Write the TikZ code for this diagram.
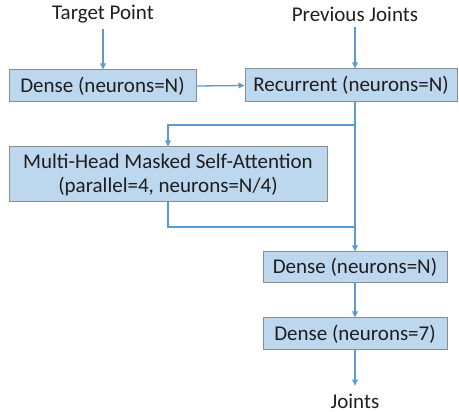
\documentclass[tikz,border=0pt]{standalone}
\usepackage{fontspec}
\setmainfont{Carlito}
\usetikzlibrary{arrows.meta}
\definecolor{boxfill}{RGB}{189,215,238}
\definecolor{boxline}{RGB}{140,140,140}
\definecolor{arrowblue}{RGB}{91,155,213}
\definecolor{txt}{RGB}{30,30,30}
\begin{document}
\begin{tikzpicture}[x=1pt,y=-1pt,
  layer/.style={draw=boxline,fill=boxfill,line width=1pt,inner sep=0pt,align=center,
     font=\fontsize{21}{24}\selectfont,text=txt},
  lbl/.style={inner sep=0pt,outer sep=6pt,font=\fontsize{21}{24}\selectfont,text=txt},
  conn/.style={draw=arrowblue,line width=1.3pt},
  arr/.style={conn,-{Triangle[length=6pt,width=5.5pt]}}]
\useasboundingbox (0,0) rectangle (459,412);
\node[lbl] (tp) at (103,14) {Target Point};
\node[lbl] (pj) at (355,14) {Previous Joints};
\node[layer,minimum width=187pt,minimum height=32pt] (d1) at (102.5,86) {Dense (neurons=N)};
\node[layer,minimum width=212pt,minimum height=33pt] (rec) at (351,85.5) {Recurrent (neurons=N)};
\node[layer,minimum width=318pt,minimum height=55pt] (mh) at (168,174.5) {Multi-Head Masked Self-Attention\\(parallel=4, neurons=N/4)};
\node[layer,minimum width=184pt,minimum height=31pt] (d2) at (355,267.5) {Dense (neurons=N)};
\node[layer,minimum width=184pt,minimum height=32pt] (d3) at (355,334) {Dense (neurons=7)};
\node[lbl,outer sep=8pt] (jo) at (355,401) {Joints};
\coordinate (split) at (355,125);
\coordinate (merge) at (355,227);
\draw[arr] (tp.south) -- (tp.south |- d1.north);
\draw[arr] (pj.south) -- (pj.south |- rec.north);
\draw[arr] (d1.east) -- (rec.west);
\draw[conn] (rec.south -| split) -- (split);
\draw[arr] (split) -- (168,125) -- (mh.north);
\draw[conn] (mh.south) -- (168,227) -- (merge);
\draw[arr] (split) -- (d2.north);
\draw[arr] (d2.south) -- (d3.north);
\draw[arr] (d3.south) -- (jo.north);
\end{tikzpicture}
\end{document}
